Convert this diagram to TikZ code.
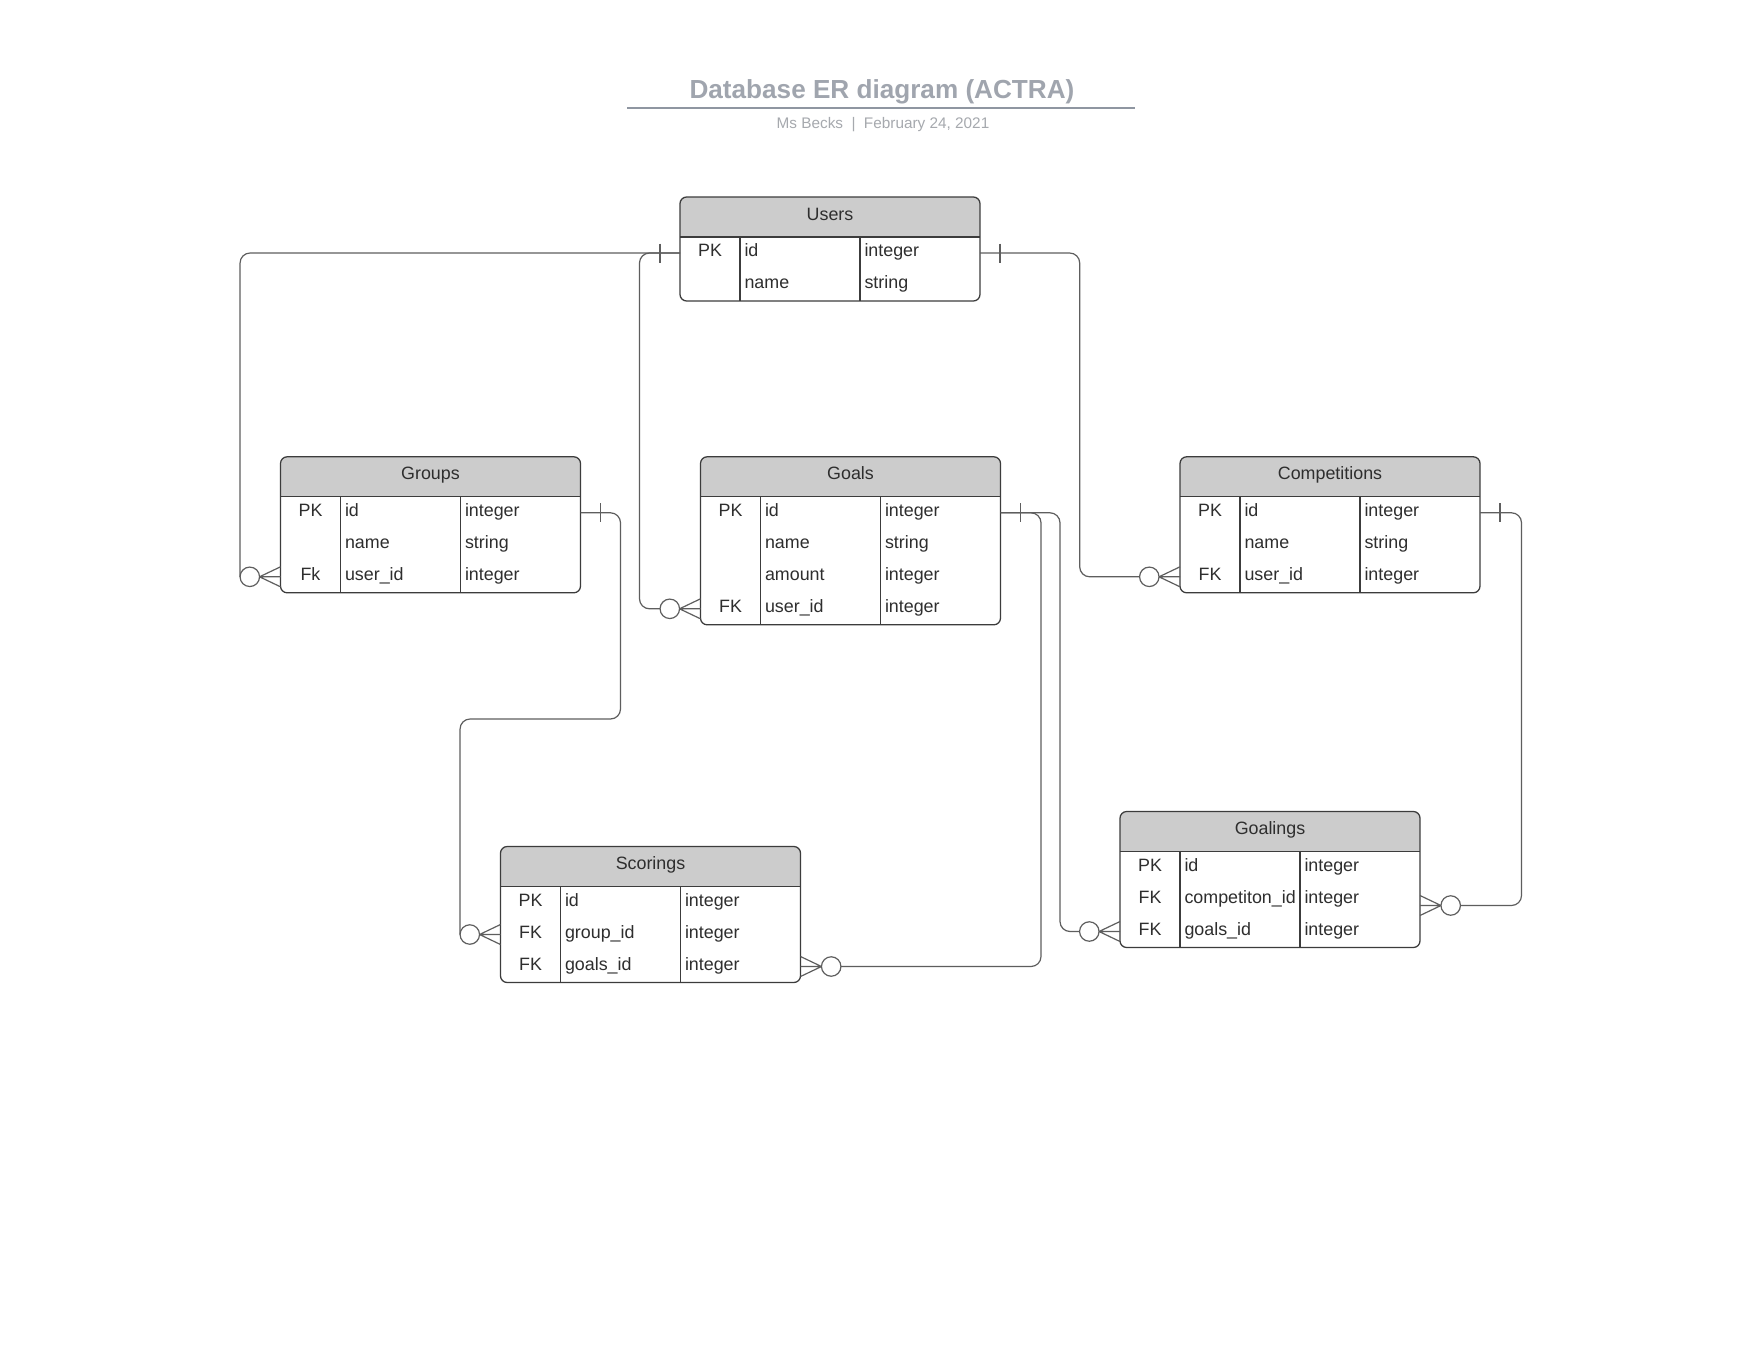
\documentclass[tikz,border=0pt]{standalone}
\usepackage{fontspec}
\setmainfont{Liberation Sans}
\usetikzlibrary{calc}
\definecolor{hdrfill}{HTML}{CCCCCC}
\definecolor{framecol}{HTML}{3C3C3C}
\definecolor{linecol}{HTML}{5E5E5E}
\definecolor{txtcol}{HTML}{2E2E2E}
\definecolor{titlecol}{HTML}{A0A5AE}
\definecolor{subcol}{HTML}{A6A9AE}
\definecolor{rulecol}{HTML}{8F96A1}

\tikzset{
  frame/.style={draw=framecol, line width=0.95pt},
  conn/.style={draw=linecol, line width=0.9pt},
  celltext/.style={inner sep=0pt, outer sep=0pt, text=txtcol, font=\fontsize{13.4}{16}\selectfont},
  rowbox/.style={inner sep=0pt, outer sep=0pt, minimum width=225pt, minimum height=24pt},
  zero/.style={circle, draw=linecol, line width=0.9pt, fill=white, minimum size=14.6pt, inner sep=0pt, outer sep=0pt},
}

% #1 name, #2 left x, #3 top y, #4 number of rows, #5 title, #6 rows key/field/type
\newcommand{\ertable}[6]{%
  \node[inner sep=0pt, outer sep=0pt, minimum width=225pt,
        minimum height={(40+32*#4)*0.75pt}, anchor=north west] (#1) at (#2,#3) {};
  \begin{scope}
    \clip[rounded corners=5pt] (#1.north west) rectangle (#1.south east);
    \fill[hdrfill] (#1.north west) rectangle ($(#1.north east)+(0,40)$);
  \end{scope}
  \draw[frame, rounded corners=5pt] (#1.north west) rectangle (#1.south east);
  \draw[frame] ($(#1.north west)+(0,40)$) -- ($(#1.north east)+(0,40)$);
  \draw[frame] ($(#1.north west)+(60,40)$) -- ($(#1.south west)+(60,0)$);
  \draw[frame] ($(#1.north west)+(180,40)$) -- ($(#1.south west)+(180,0)$);
  \node[celltext, anchor=base] (#1-title) at ($(#1.north)+(0,23)$) {#5};
  \foreach \k/\f/\t [count=\i] in {#6} {
    \node[rowbox] (#1-r\i) at ($(#1.north west)+(150,{40+32*\i-16})$) {};
    \node[celltext, anchor=base] (#1-k\i) at ($(#1-r\i.west)+(30,3.6)$) {\k};
    \node[celltext, anchor=base west] (#1-f\i) at ($(#1-r\i.west)+(64.5,3.6)$) {\f};
    \node[celltext, anchor=base west] (#1-t\i) at ($(#1-r\i.west)+(184.5,3.6)$) {\t};
  }
}

% zero-or-many end: circle to the left / right of the box edge point #2
\newcommand{\manyL}[2]{%
  \node[zero] (#1) at ($(#2)+(-30.7,0)$) {};
  \draw[conn] (#1.east) -- ($(#2)+(0,-10)$) (#1.east) -- (#2) (#1.east) -- ($(#2)+(0,10)$);
}
\newcommand{\manyR}[2]{%
  \node[zero] (#1) at ($(#2)+(30.7,0)$) {};
  \draw[conn] (#1.west) -- ($(#2)+(0,-10)$) (#1.west) -- (#2) (#1.west) -- ($(#2)+(0,10)$);
}
% one-mark tick 20px outside the box edge point
\newcommand{\tickL}[1]{\draw[conn] ($(#1)+(-20,-9.5)$) -- ($(#1)+(-20,9.5)$);}
\newcommand{\tickR}[1]{\draw[conn] ($(#1)+(20,-9.5)$) -- ($(#1)+(20,9.5)$);}

\begin{document}
\begin{tikzpicture}[x=0.75pt, y=-0.75pt]
\useasboundingbox[fill=white] (0,0) rectangle (1760,1360);

% title block
\node[inner sep=0pt, anchor=base, text=titlecol, font=\fontsize{19.6}{23}\selectfont\bfseries] (title) at (882,98.5) {Database ER diagram (ACTRA)};
\coordinate (rule-l) at (627.4,108);
\coordinate (rule-r) at (1134.7,108);
\draw[draw=rulecol, line width=1.2pt] (rule-l) -- (rule-r);
\node[inner sep=0pt, anchor=base, text=subcol, font=\fontsize{11.5}{14}\selectfont] (subtitle) at (883,128) {Ms Becks\hspace{0.55em}|\hspace{0.55em}February 24, 2021};

% tables
\ertable{users}{680}{197}{2}{Users}{PK/id/integer, /name/string}
\ertable{groups}{280.5}{456.8}{3}{Groups}{PK/id/integer, /name/string, Fk/user\_id/integer}
\ertable{goals}{700.5}{456.8}{4}{Goals}{PK/id/integer, /name/string, /amount/integer, FK/user\_id/integer}
\ertable{comp}{1180}{456.8}{3}{Competitions}{PK/id/integer, /name/string, FK/user\_id/integer}
\ertable{scor}{500.5}{846.5}{3}{Scorings}{PK/id/integer, FK/group\_id/integer, FK/goals\_id/integer}
\ertable{goalings}{1120}{811.5}{3}{Goalings}{PK/id/integer, FK/competiton\_id/integer, FK/goals\_id/integer}

% relationship ends
\coordinate (glc) at ($(goalings-r2.east)+(0,6)$);
\manyL{gr-z}{groups-r3.west}
\manyL{go-z}{goals-r4.west}
\manyL{co-z}{comp-r3.west}
\manyL{sc-z2}{scor-r2.west}
\manyR{sc-z3}{scor-r3.east}
\manyL{gl-z3}{goalings-r3.west}
\manyR{gl-z2}{glc}

\tickL{users-r1.west}
\tickR{users-r1.east}
\tickR{groups-r1.east}
\tickR{goals-r1.east}
\tickR{comp-r1.east}

% routing columns
\coordinate (ug) at (639.5,400);
\coordinate (uc) at (1079.7,400);
\coordinate (gs) at (620.5,719);
\coordinate (gsc) at (1041,700);
\coordinate (ggl) at (1060,700);
\coordinate (cgl) at (1521.5,700);

\begin{scope}[rounded corners=7.5pt]
\draw[conn] (users-r1.west) -| (gr-z.west);
\draw[conn] (users-r1.west) -| (ug |- go-z.west) -- (go-z.west);
\draw[conn] (users-r1.east) -| (uc |- co-z.west) -- (co-z.west);
\draw[conn] (groups-r1.east) -| (gs) -| (sc-z2.west);
\draw[conn] (goals-r1.east) -| (gsc |- sc-z3.east) -- (sc-z3.east);
\draw[conn] (goals-r1.east) -| (ggl |- gl-z3.west) -- (gl-z3.west);
\draw[conn] (comp-r1.east) -| (cgl |- gl-z2.east) -- (gl-z2.east);
\end{scope}
\end{tikzpicture}
\end{document}
